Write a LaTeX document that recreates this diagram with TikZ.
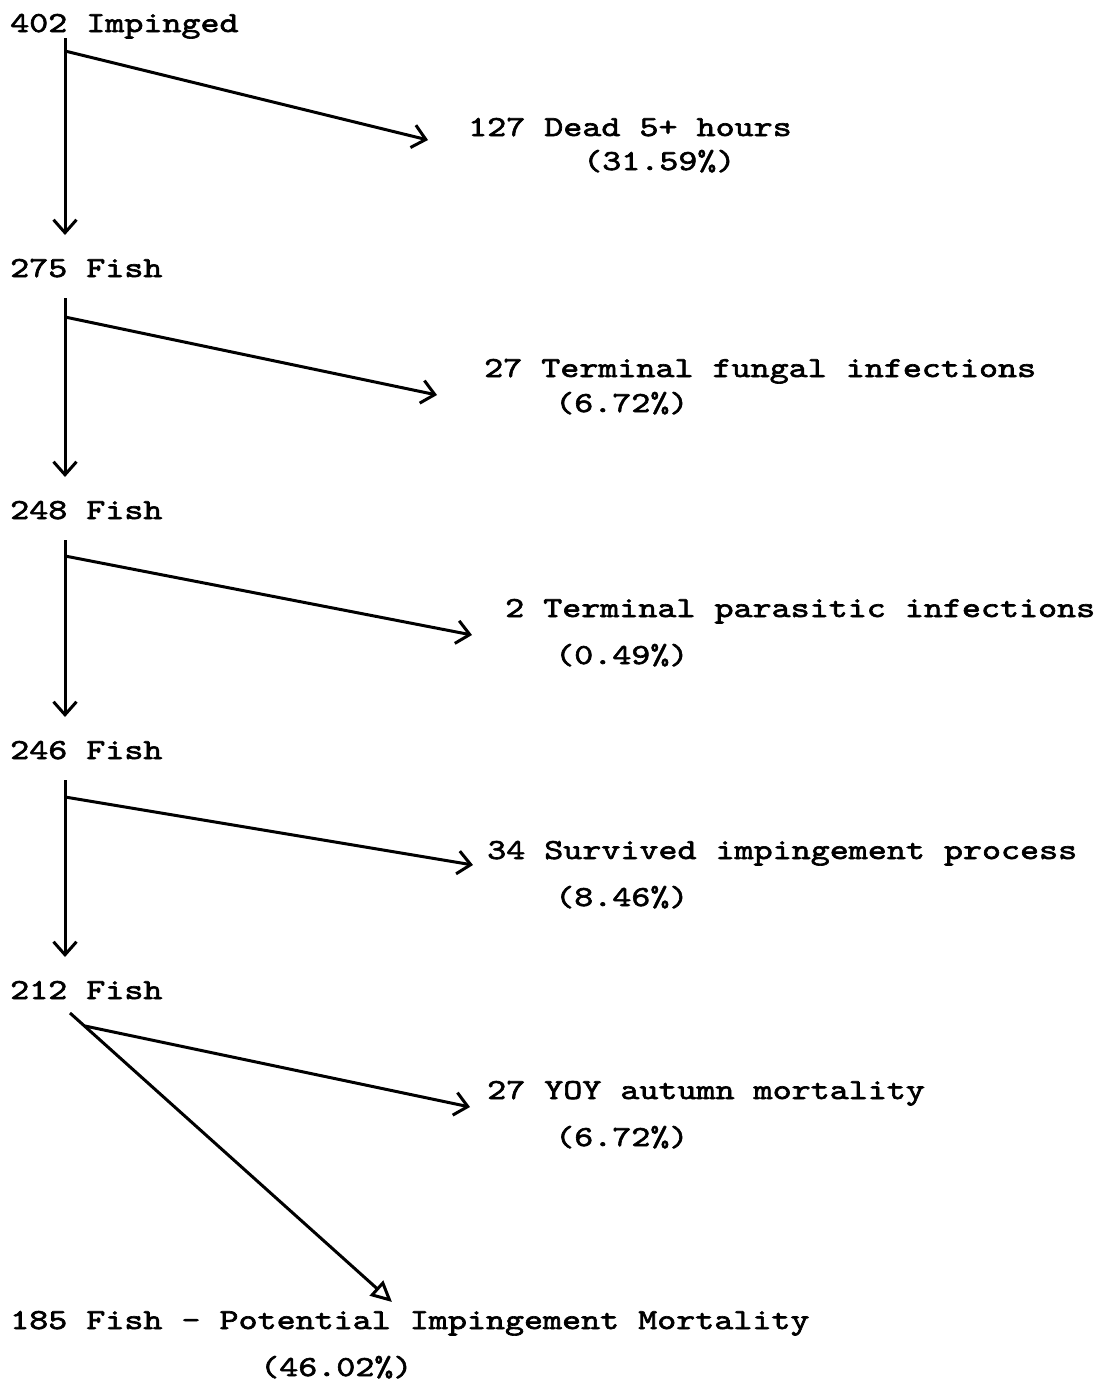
\documentclass[tikz,border=0pt]{standalone}
\usepackage{fontspec}
\newfontfamily\typer{lmmono10-regular.otf}[FakeStretch=1.25,FakeBold=2.2]
\usetikzlibrary{arrows.meta}

\begin{document}
\begin{tikzpicture}[
x=1pt, y=-1pt,
txt/.style={anchor=base west, inner sep=0pt, font=\typer\fontsize{29}{34}\selectfont},
flow/.style={line width=3pt, -{Straight Barb[length=13pt,width=23pt,line width=3pt]}},
down/.style={flow, shorten <=21pt, shorten >=42pt},
last/.style={line width=3pt, -{Triangle[open,length=21pt,width=20pt,line width=3pt]}},
]
\useasboundingbox (0,0) rectangle (1103,1392);

%Nodes
\node[txt]      (n402)      at (10,32)     {402 Impinged};
\node[txt]      (n127)      at (468,136)   {127 Dead 5+ hours};
\node[txt]      (p127)      at (583,170)   {(31.59\%)};
\node[txt]      (n275)      at (10,277)    {275 Fish};
\node[txt]      (n27f)      at (484,377)   {27 Terminal fungal infections};
\node[txt]      (p27f)      at (555,412)   {(6.72\%)};
\node[txt]      (n248)      at (10,519)    {248 Fish};
\node[txt]      (n2)        at (505,617)   {2 Terminal parasitic infections};
\node[txt]      (p2)        at (555,664)   {(0.49\%)};
\node[txt]      (n246)      at (10,759)    {246 Fish};
\node[txt]      (n34)       at (487,859)   {34 Survived impingement process};
\node[txt]      (p34)       at (555,906)   {(8.46\%)};
\node[txt]      (n212)      at (10,999)    {212 Fish};
\node[txt]      (n27y)      at (487,1099)  {27 YOY autumn mortality};
\node[txt]      (p27y)      at (555,1146)  {(6.72\%)};
\node[txt]      (n185)      at (10,1329)   {185 Fish - Potential Impingement Mortality};
\node[txt]      (p185)      at (260,1376)  {(46.02\%)};

%Split points
\coordinate (s1) at (65,51);
\coordinate (s2) at (65,317);
\coordinate (s3) at (65,556);
\coordinate (s4) at (65,797);
\coordinate (s5) at (85,1026);

%Lines
\draw[down, shorten <=6pt] (s1 |- n402.base) -- (s1 |- n275.base);
\draw[down] (s2 |- n275.base) -- (s2 |- n248.base);
\draw[down] (s3 |- n248.base) -- (s3 |- n246.base);
\draw[down] (s4 |- n246.base) -- (s4 |- n212.base);
\draw[flow] (s1) -- ([xshift=-40pt,yshift=-4pt]n127.base west);
\draw[flow] (s2) -- ([xshift=-47pt,yshift=-18pt]n27f.base west);
\draw[flow] (s3) -- ([xshift=-33pt,yshift=-18pt]n2.base west);
\draw[flow] (s4) -- ([xshift=-14pt,yshift=-6pt]n34.base west);
\draw[flow] (s5) -- ([xshift=-17pt,yshift=-8pt]n27y.base west);
\draw[last] ([xshift=60pt,yshift=-14pt]n212.base west) -- ([xshift=382pt,yshift=27pt]n185.base west);
\end{tikzpicture}
\end{document}
